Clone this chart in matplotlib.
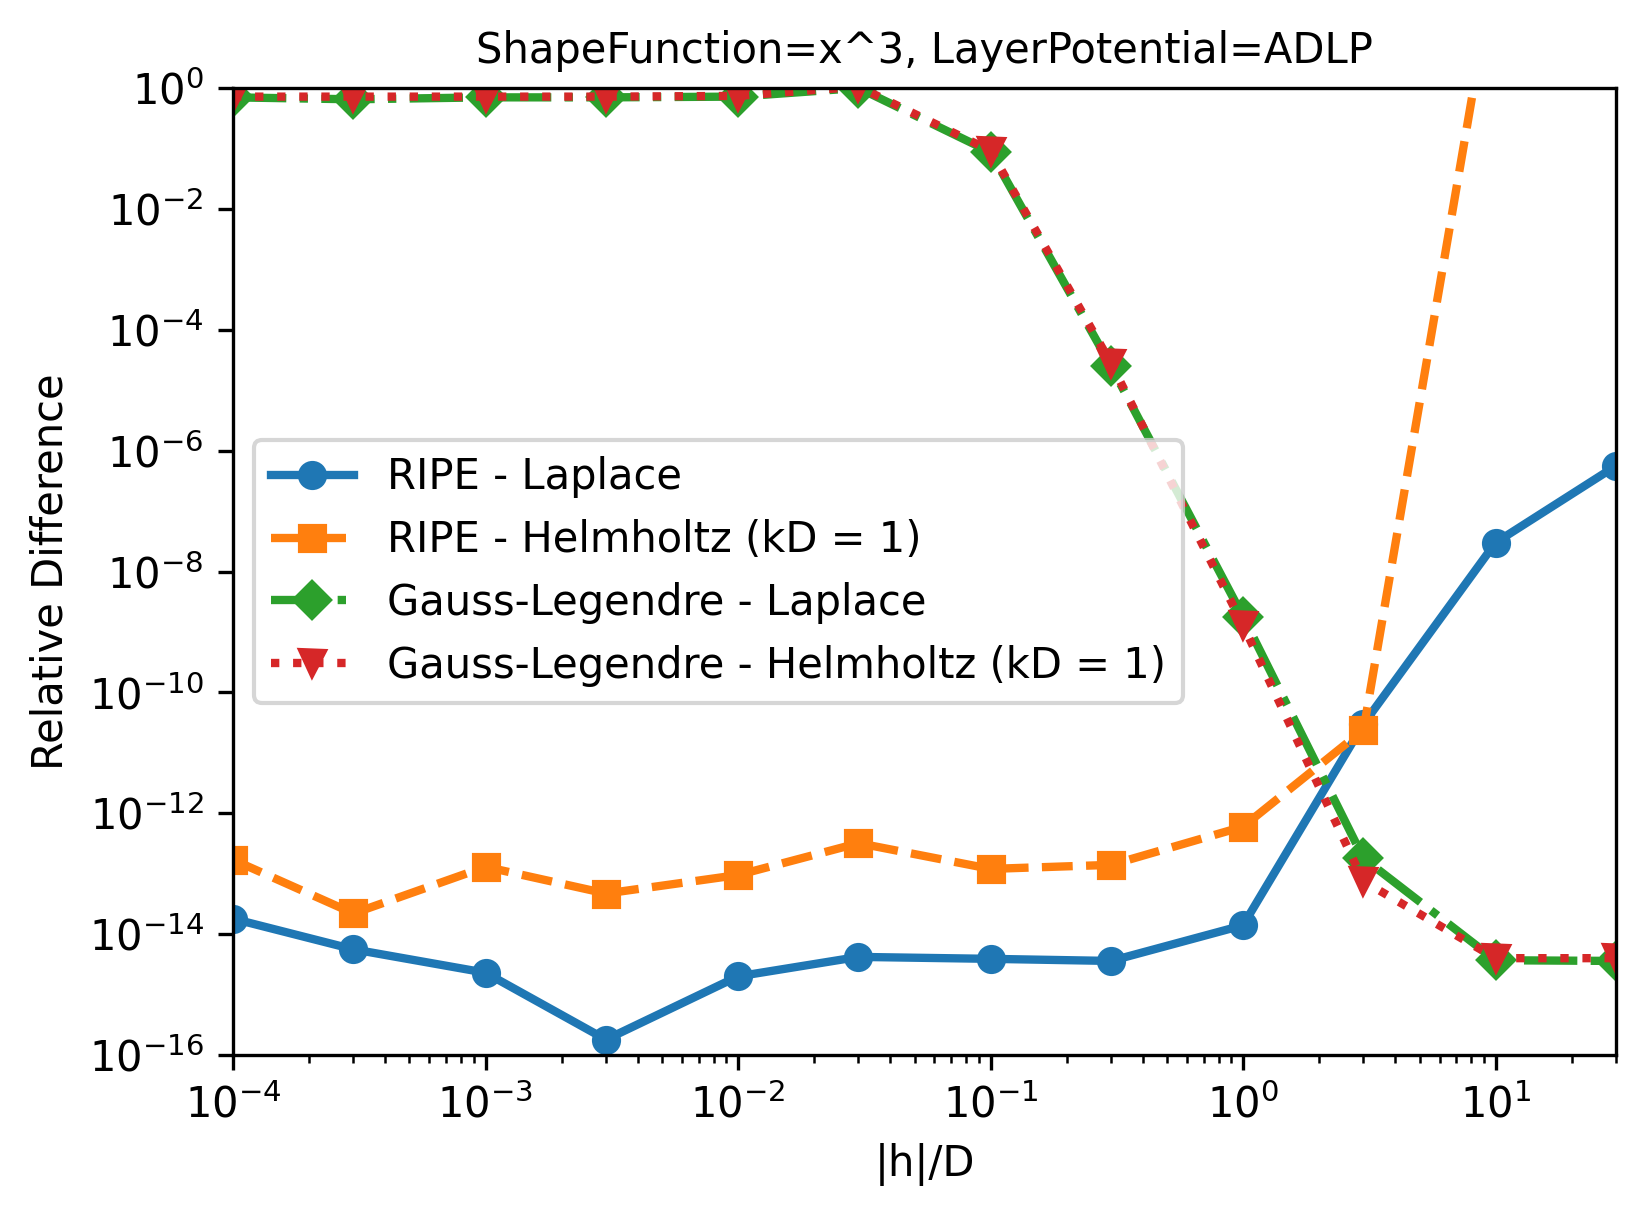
import matplotlib
matplotlib.use("Agg")
import matplotlib.pyplot as plt

h_over_d = [1e-4, 3e-4, 1e-3, 3e-3, 1e-2, 3e-2, 1e-1, 3e-1, 1e0, 3e0, 1e1, 3e1]

ripe_laplace = [1.8e-14, 5.6e-15, 2.3e-15, 1.8e-16, 2.0e-15, 4.2e-15,
                3.9e-15, 3.6e-15, 1.4e-14, 3.0e-11, 3.0e-8, 5.6e-7]
ripe_helmholtz = [1.7e-13, 2.2e-14, 1.3e-13, 4.7e-14, 9.5e-14, 3.2e-13,
                  1.2e-13, 1.4e-13, 6.0e-13, 2.4e-11, 1.3e2, 1e6]
gl_laplace = [0.70, 0.65, 0.70, 0.70, 0.72, 1.0,
              8.7e-2, 2.5e-5, 1.8e-9, 1.8e-13, 3.7e-15, 3.6e-15]
gl_helmholtz = [0.72, 0.72, 0.72, 0.72, 0.74, 1.05,
                9.2e-2, 2.8e-5, 1.3e-9, 7.5e-14, 4.0e-15, 4.0e-15]

labels = ["RIPE - Laplace", "RIPE - Helmholtz (kD = 1)",
          "Gauss-Legendre - Laplace", "Gauss-Legendre - Helmholtz (kD = 1)"]

fig = plt.figure(figsize=(1646 / 300, 1216 / 300), dpi=300)
ax = fig.add_axes([233 / 1646, 1 - 1055 / 1216, (1616 - 233) / 1646, (1055 - 88) / 1216])

ax.loglog(h_over_d, ripe_laplace, marker='o', linestyle='-', lw=2, label=labels[0])
ax.loglog(h_over_d, ripe_helmholtz, marker='s', linestyle='--', lw=2, label=labels[1])
ax.loglog(h_over_d, gl_laplace, marker='D', linestyle='-.', lw=2, label=labels[2])
ax.loglog(h_over_d, gl_helmholtz, marker='v', linestyle=':', lw=2, label=labels[3])

ax.set_xlim(1e-4, 30)
ax.set_ylim(1e-16, 1)
ax.set_yticks([10.0 ** k for k in range(-16, 1, 2)])
ax.set_xlabel('|h|/D')
ax.set_ylabel('Relative Difference')
ax.set_title('ShapeFunction=x^3, LayerPotential=ADLP', fontsize=10)
ax.legend(loc='center left')

fig.savefig('out.png', dpi=300)
